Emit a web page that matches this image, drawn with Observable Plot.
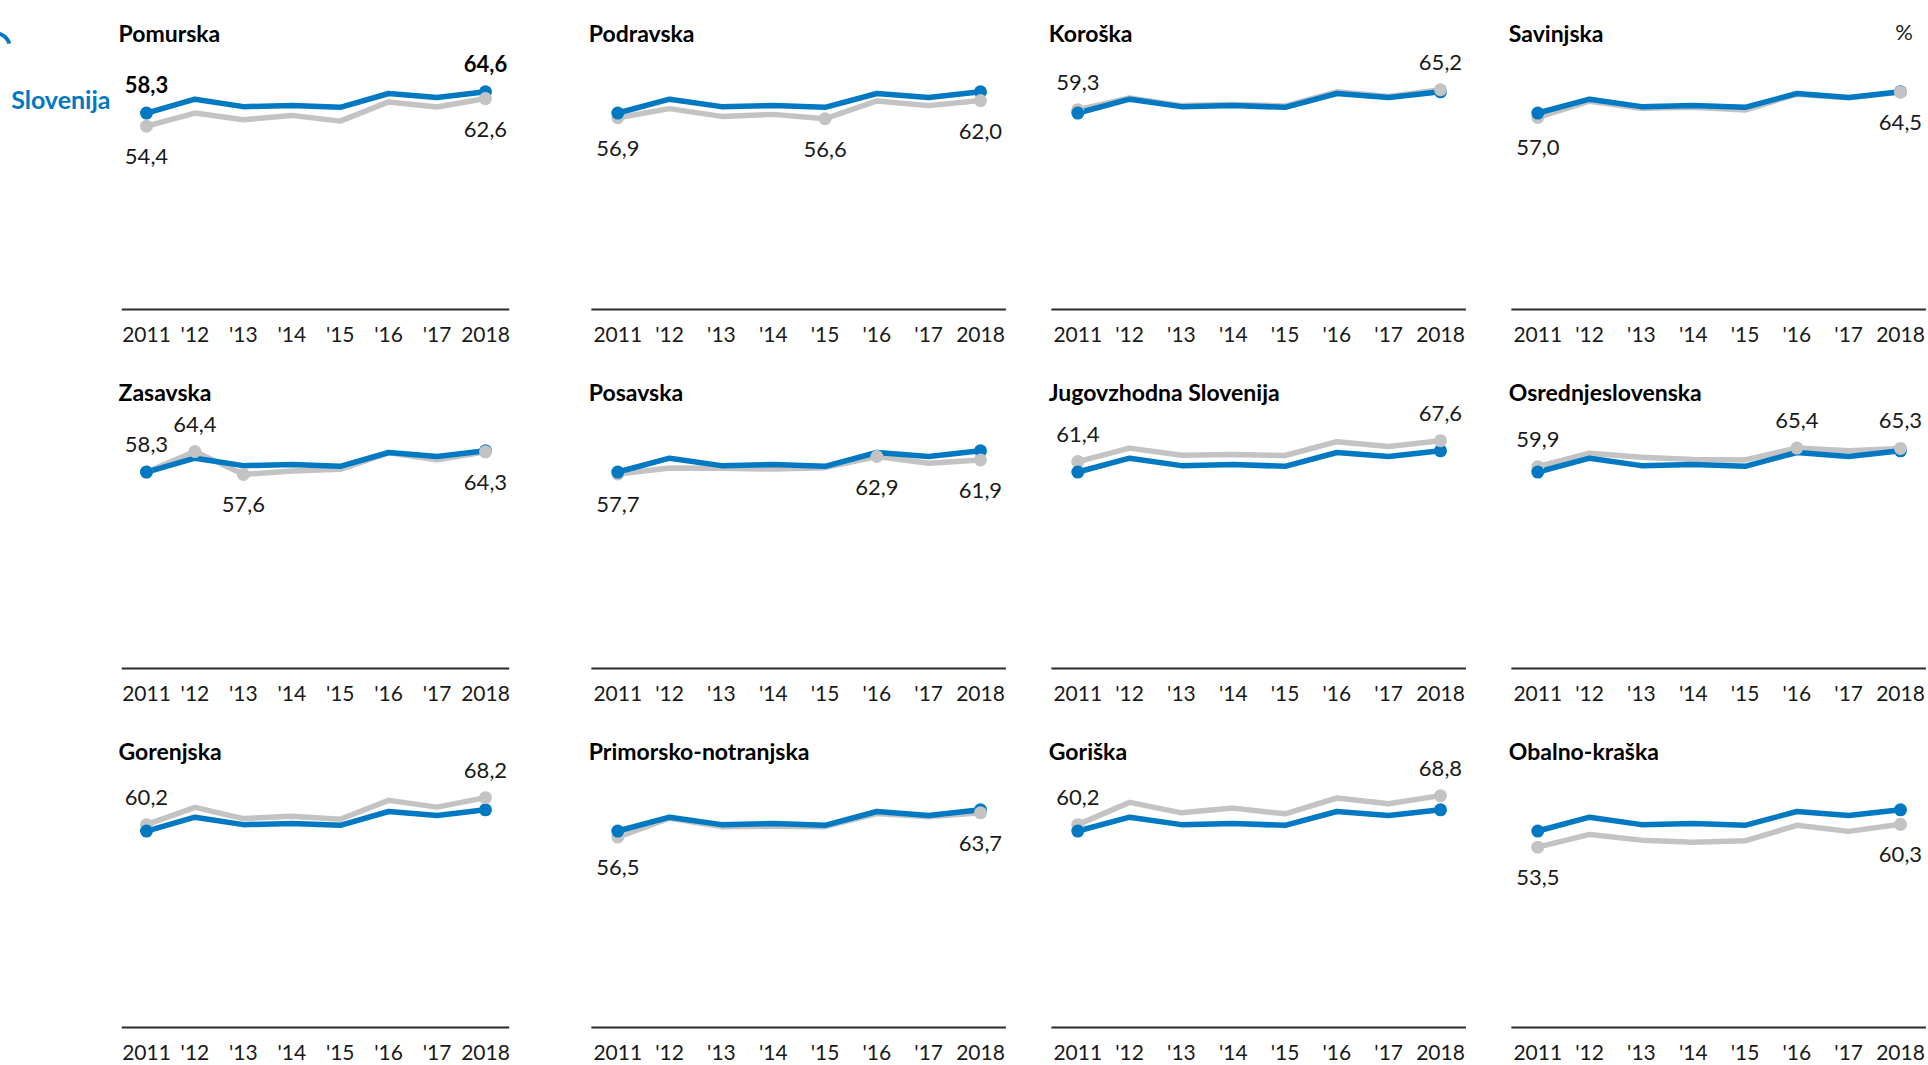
<!DOCTYPE html>
<html>
<head>
<meta charset="utf-8">
<script src="https://cdn.jsdelivr.net/npm/d3@7"></script>
<script src="https://cdn.jsdelivr.net/npm/@observablehq/plot@0.6"></script>
<style>
html, body { margin: 0; padding: 0; background: #fff; overflow: hidden; }
#root { position: relative; width: 1928px; height: 1065px; overflow: hidden; font-family: Lato, sans-serif; }
.panel { position: absolute; }
.arc { position: absolute; left: -22px; top: 31px; width: 26px; height: 26px; border: 4px solid transparent; border-top-color: #0079c2; border-right-color: transparent; border-radius: 50%; transform: rotate(28deg); }
</style>
</head>
<body>
<div id="root"><div class="arc"></div></div>
<script>
// ---- data ----
const years = [2011, 2012, 2013, 2014, 2015, 2016, 2017, 2018];
const yearLabels = ["2011", "'12", "'13", "'14", "'15", "'16", "'17", "2018"];
const regionNames = ["Pomurska", "Podravska", "Koroška", "Savinjska",
  "Zasavska", "Posavska", "Jugovzhodna Slovenija", "Osrednjeslovenska",
  "Gorenjska", "Primorsko-notranjska", "Goriška", "Obalno-kraška"];
const slovenija = [58.3, 62.4, 60.2, 60.5, 60.0, 64.1, 62.9, 64.6];
const pomurska = [54.4, 58.3, 56.3, 57.6, 55.9, 61.6, 60.1, 62.6];
const podravska = [56.9, 59.6, 57.3, 57.9, 56.6, 61.9, 60.5, 62.0];
const koroska = [59.3, 62.8, 60.5, 60.8, 60.4, 64.6, 63.2, 65.2];
const savinjska = [57.0, 61.8, 59.7, 60.0, 59.2, 63.9, 62.8, 64.5];
const zasavska = [58.3, 64.4, 57.6, 58.6, 59.1, 64.0, 61.9, 64.3];
const posavska = [57.7, 59.5, 59.4, 59.2, 59.6, 62.9, 60.9, 61.9];
const jugovzhodna = [61.4, 65.4, 63.3, 63.5, 63.2, 67.3, 65.9, 67.6];
const osrednjeslovenska = [59.9, 63.9, 62.7, 62.0, 61.9, 65.4, 64.6, 65.3];
const gorenjska = [60.2, 65.3, 62.0, 62.7, 61.8, 67.4, 65.4, 68.2];
const primorsko = [56.5, 62.1, 59.6, 59.7, 59.6, 63.5, 62.5, 63.7];
const goriska = [60.2, 66.8, 63.7, 65.1, 63.4, 68.1, 66.4, 68.8];
const obalno = [53.5, 57.3, 55.6, 55.0, 55.4, 60.0, 58.2, 60.3];
const regionValues = [pomurska, podravska, koroska, savinjska, zasavska, posavska,
  jugovzhodna, osrednjeslovenska, gorenjska, primorsko, goriska, obalno];
const sloLabel = "Slovenija";
const unitLabel = "%";

// ---- style ----
const BLUE = "#0079c2";
const GRAY = "#c3c3c3";
const INK = "#1a1a1a";
const fmt = v => v.toFixed(1).replace(".", ",");
const yearText = d => yearLabels[years.indexOf(d)];

const root = document.getElementById("root");
const colLeft = [0, 581, 1041, 1501];
const axisY = 309;
const pxPerUnit = 3.37;
const yMax = 80;

regionNames.forEach((name, i) => {
  const col = i % 4, row = Math.floor(i / 4);
  const first = col === 0;
  const width = first ? 510 : 426;
  const marginLeft = first ? 146 : 36.3;
  const marginRight = first ? 25 : 27;
  const height = 360;
  const marginBottom = height - axisY;
  const marginTop = axisY - yMax * pxPerUnit;
  const vals = regionValues[i];
  const data = years.map((year, j) => ({year, region: vals[j], slo: slovenija[j], j}));
  const minV = d3.min(vals), maxV = d3.max(vals);
  const last = years.length - 1;
  const labeled = data.filter(d => d.j === 0 || d.j === last || d.region === minV || d.region === maxV);
  const above = labeled.filter(d => d.region >= d.slo);
  const below = labeled.filter(d => d.region < d.slo);

  const marks = [
    Plot.ruleY([0], {x1: 2010.5, x2: 2018.5, stroke: "#2b2b2b", strokeWidth: 2}),
    Plot.line(data, {x: "year", y: "region", stroke: GRAY, strokeWidth: 5.5}),
    Plot.line(data, {x: "year", y: "slo", stroke: BLUE, strokeWidth: 5.5}),
    Plot.dot(data.filter(d => d.j === last), {x: "year", y: "slo", fill: BLUE, r: 6.5}),
    Plot.dot(labeled, {x: "year", y: "region", fill: GRAY, r: 6.5}),
    Plot.dot(data.filter(d => d.j === 0), {x: "year", y: "slo", fill: BLUE, r: 6.5}),
    Plot.text(above, {x: "year", y: "region", text: d => fmt(d.region), dy: -27, fontSize: 22, fill: INK}),
    Plot.text(below, {x: "year", y: "region", text: d => fmt(d.region), dy: 31, fontSize: 22, fill: INK}),
    Plot.text([name], {text: d => d, frameAnchor: "top-left", textAnchor: "start", dx: first ? -28 : -29, dy: 25 - marginTop, fontSize: 23, fontWeight: 700, fill: "#000"}),
    Plot.axisX({ticks: years, tickFormat: yearText, tickSize: 0, tickPadding: 18, fontSize: 21, color: INK, label: null})
  ];
  if (i === 0) {
    const ends = data.filter(d => d.j === 0 || d.j === last);
    marks.push(Plot.text(ends, {x: "year", y: "slo", text: d => fmt(d.slo), dy: -27, fontSize: 22, fontWeight: 700, fill: "#000"}));
    marks.push(Plot.text(data.filter(d => d.j === 0), {x: "year", y: "slo", text: () => sloLabel, textAnchor: "end", dx: -36, dy: -12, fontSize: 25, fontWeight: 700, fill: BLUE}));
  }
  if (i === 3) {
    marks.push(Plot.text([unitLabel], {text: d => d, frameAnchor: "top-right", textAnchor: "middle", dx: 3.5, dy: 23.5 - marginTop, fontSize: 22, fill: INK}));
  }

  const chart = Plot.plot({
    width, height, marginLeft, marginRight, marginTop, marginBottom,
    x: {domain: [2011, 2018]},
    y: {domain: [0, yMax], axis: null},
    style: {fontFamily: "Lato, sans-serif", overflow: "visible", background: "transparent"},
    marks
  });
  const div = document.createElement("div");
  div.className = "panel";
  div.style.left = colLeft[col] + "px";
  div.style.top = (row * 359) + "px";
  div.appendChild(chart);
  root.appendChild(div);
});
</script>
</body>
</html>
